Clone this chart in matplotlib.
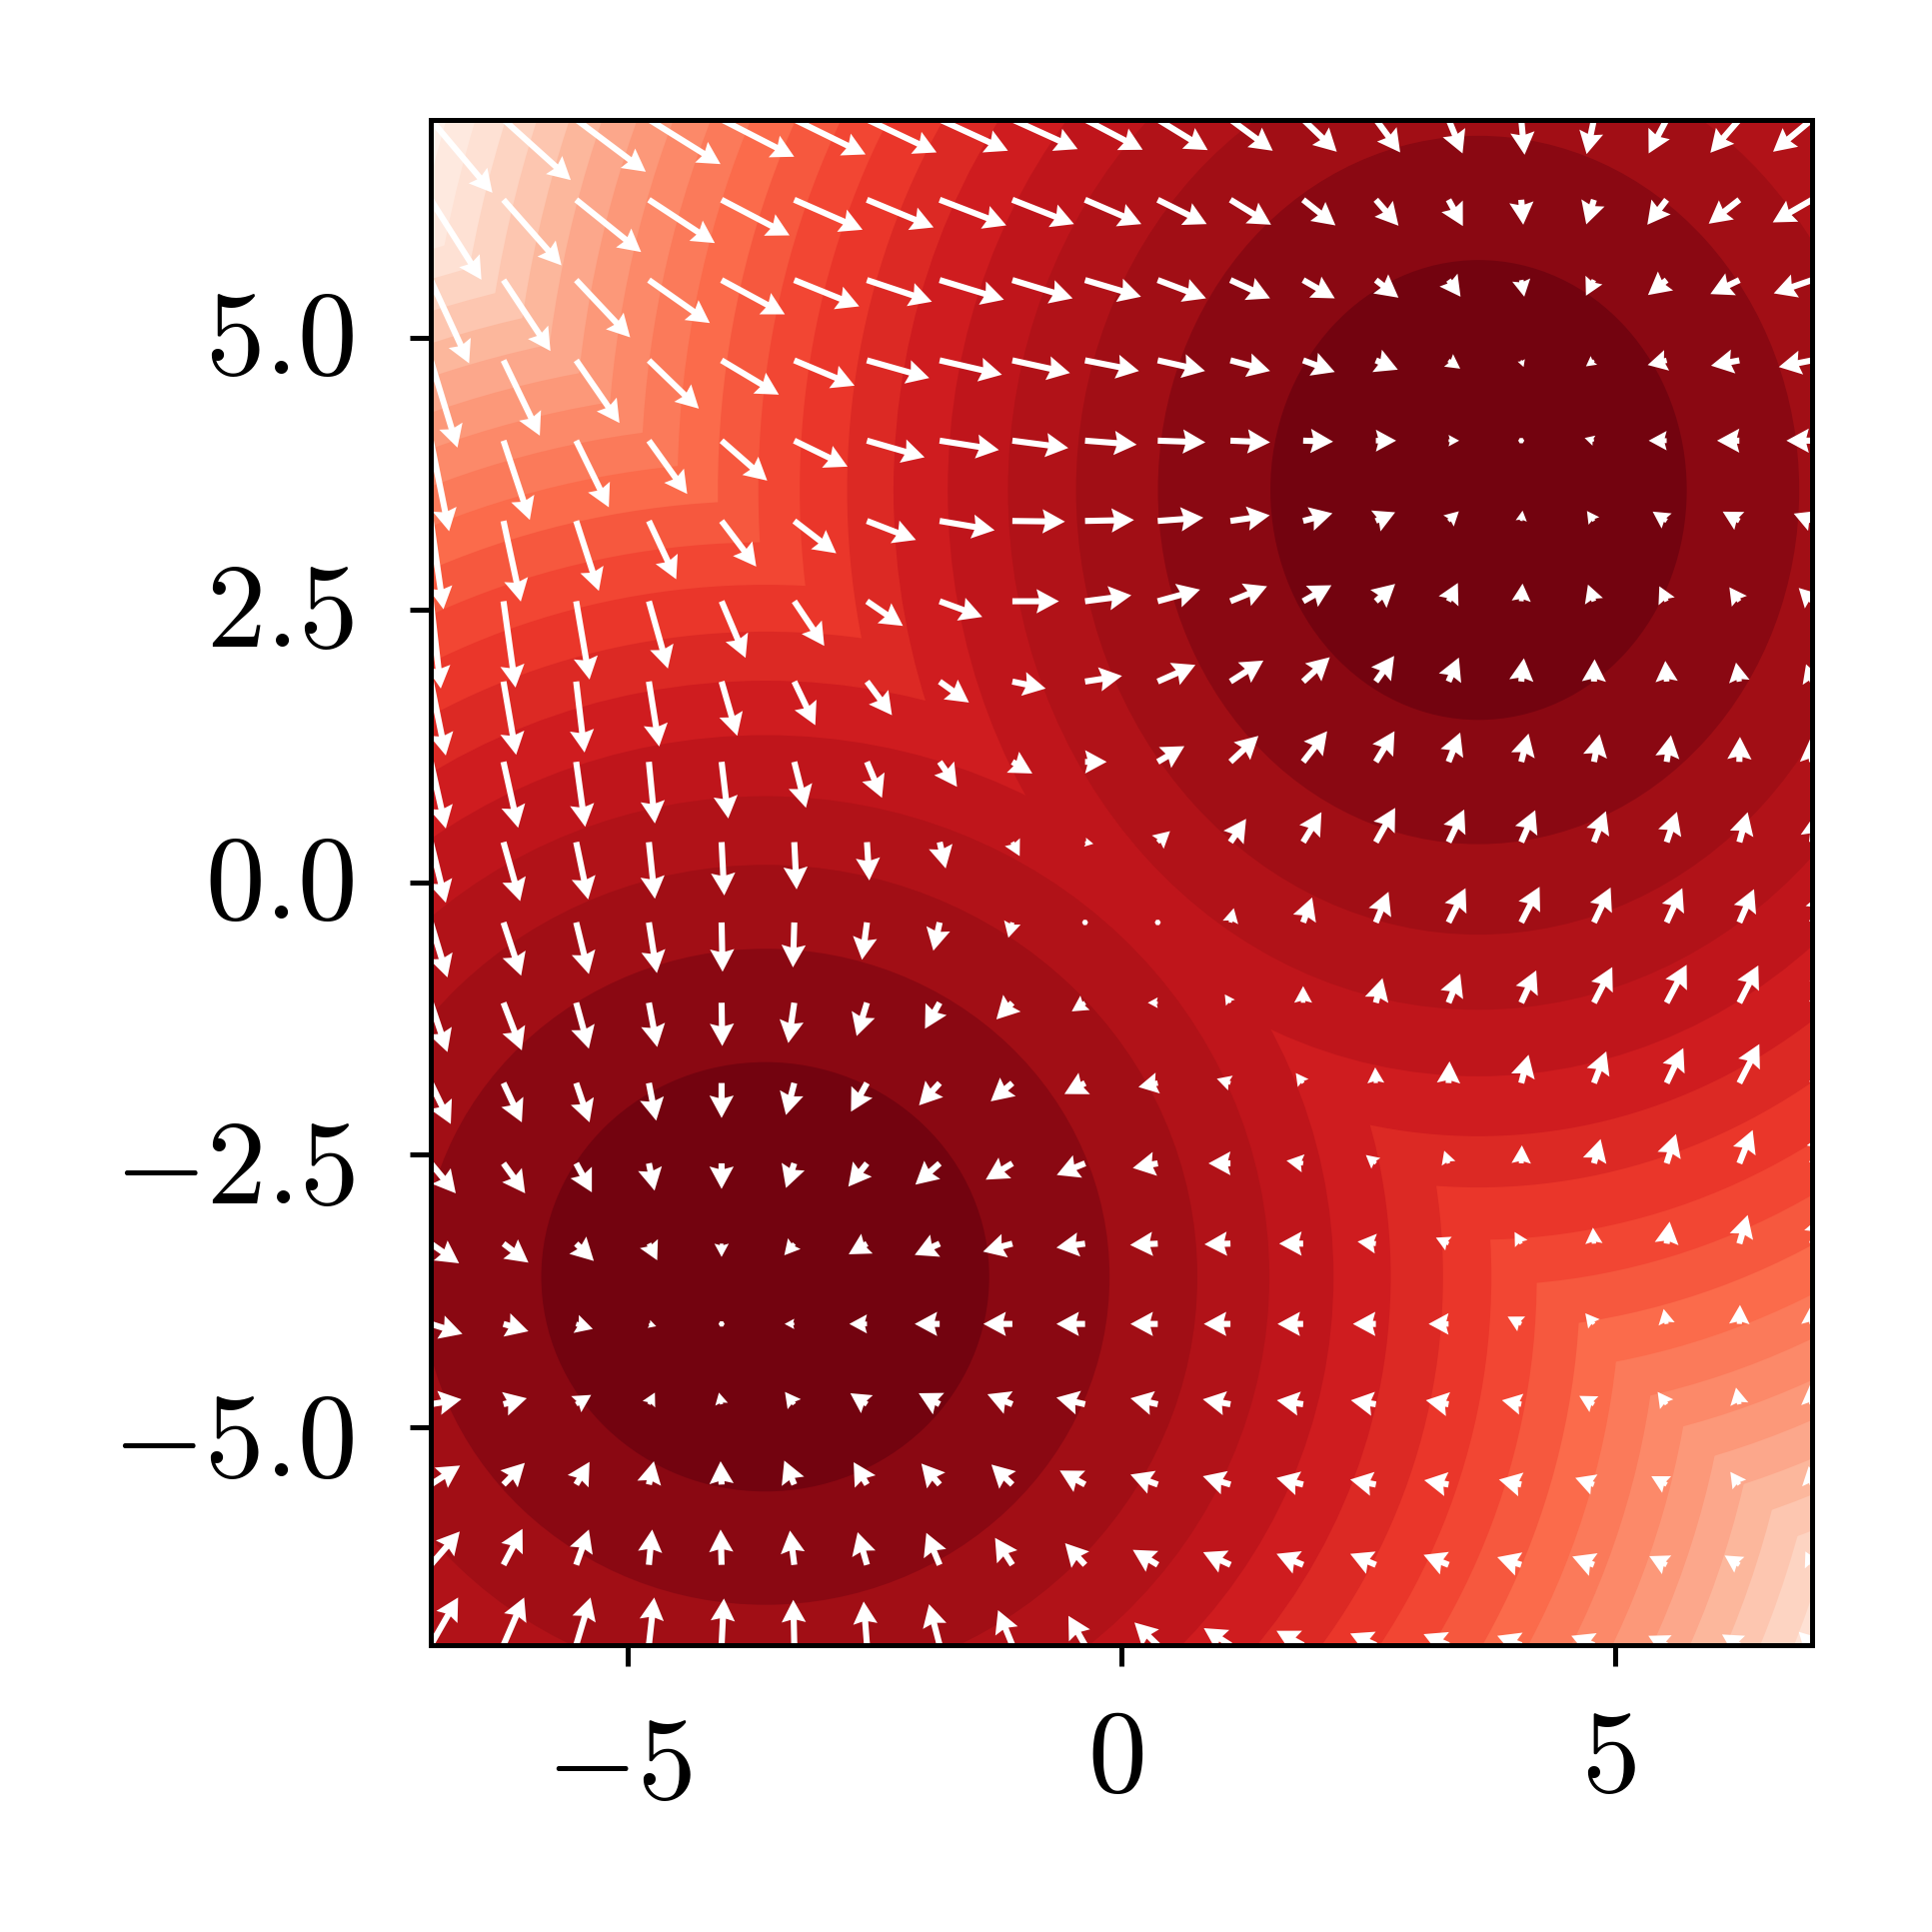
import matplotlib
matplotlib.use('Agg')
import matplotlib.pyplot as plt
import numpy as np
from matplotlib.patches import Ellipse
from matplotlib.transforms import ScaledTranslation

plt.rcParams['mathtext.fontset'] = 'cm'
plt.rcParams['font.family'] = 'serif'

x_ticks = [-5, 0, 5]
y_ticks = [-5, -2.5, 0, 2.5, 5]
x_labels = ['$-5$', '$0$', '$5$']
y_labels = ['$-5.0$', '$-2.5$', '$0.0$', '$2.5$', '$5.0$']

# Band boundaries, innermost first
center_a = (3.62, 3.60)
radius_a = [2.11, 3.25, 4.08, 4.77, 5.38, 5.93, 6.40, 6.88, 7.30, 7.71,
            8.12, 8.49, 8.84, 9.18, 9.51, 9.82, 10.13, 10.43, 10.72, 11.00]
center_b = (-3.61, -3.62)
radius_b_x = [2.27, 3.49, 4.38, 5.11, 5.76, 6.34, 6.87, 7.36, 7.82, 8.26,
              8.67, 9.06, 9.44, 9.81, 10.16, 10.50, 10.82, 11.14, 11.45, 11.75]
radius_b_y = [1.97, 3.01, 3.78, 4.41, 4.97, 5.47, 5.92, 6.35, 6.74, 7.12,
              7.48, 7.82, 8.14, 8.45, 8.76, 9.05, 9.33, 9.61, 9.87, 10.13]

# Arrow components per grid row, top row first, left to right
U = [
    [185, 202, 209, 215, 218, 214, 209, 205, 196, 173, 150, 127, 101, 73, 42, 10, -22, -54, -87, -117],
    [152, 174, 195, 198, 204, 205, 200, 200, 185, 169, 147, 122, 97, 68, 43, 6, -23, -58, -92, -118],
    [115, 141, 162, 183, 190, 195, 195, 193, 181, 168, 145, 119, 95, 68, 36, 9, -24, -56, -87, -115],
    [80, 109, 130, 150, 172, 181, 187, 187, 173, 162, 142, 119, 95, 66, 35, 7, -24, -57, -85, -100],
    [55, 79, 98, 115, 137, 160, 173, 178, 168, 155, 143, 119, 90, 61, 32, 0, -28, -54, -67, -77],
    [38, 52, 68, 82, 104, 126, 147, 165, 158, 147, 137, 118, 88, 58, 31, 4, -21, -42, -50, -55],
    [30, 36, 40, 57, 72, 90, 108, 128, 140, 139, 127, 110, 85, 58, 28, 4, -18, -22, -30, -40],
    [45, 38, 25, 31, 47, 63, 75, 88, 100, 111, 113, 99, 80, 55, 31, 8, 2, -4, -10, -18],
    [45, 44, 27, 18, 20, 35, 45, 52, 60, 65, 80, 84, 72, 56, 35, 22, 17, 13, 2, -5],
    [45, 50, 36, 18, 8, 7, 7, 18, 22, 25, 37, 47, 55, 58, 47, 42, 36, 31, 25, 10],
    [50, 53, 38, 24, 3, -4, -15, -19, -12, 0, 0, 10, 27, 38, 51, 55, 50, 47, 44, 40],
    [50, 55, 38, 25, 2, -18, -31, -44, -48, -40, -30, -17, 0, 20, 35, 45, 55, 60, 57, 55],
    [60, 55, 40, 22, 0, -25, -48, -62, -65, -62, -58, -41, -22, -2, 3, 22, 37, 50, 60, 65],
    [75, 65, 47, 17, 0, -25, -56, -73, -80, -85, -75, -66, -50, -30, -13, 2, 20, 28, 40, 45],
    [85, 75, 53, 25, 0, -30, -55, -75, -88, -86, -83, -78, -72, -55, -38, -20, -3, 9, 25, 35],
    [95, 75, 50, 22, 0, -29, -53, -75, -87, -86, -82, -80, -77, -69, -60, -41, -26, -9, 2, 0],
    [92, 70, 45, 18, -8, -28, -50, -63, -75, -86, -82, -83, -79, -75, -68, -58, -44, -27, -10, -5],
    [88, 64, 40, 15, -3, -30, -40, -55, -63, -76, -82, -83, -80, -77, -73, -67, -56, -46, -27, -10],
    [87, 57, 38, 10, -3, -13, -28, -40, -52, -60, -75, -82, -80, -77, -75, -72, -65, -52, -44, -20],
    [82, 62, 43, 16, 7, -3, -10, -32, -43, -50, -70, -80, -80, -77, -75, -72, -68, -55, -52, -40],
]
V = [
    [-220, -182, -157, -134, -112, -105, -99, -94, -89, -91, -92, -94, -97, -99, -102, -106, -104, -102, -100, -97],
    [-240, -197, -157, -130, -107, -90, -83, -77, -73, -73, -73, -75, -77, -78, -79, -75, -74, -75, -72, -68],
    [-250, -213, -172, -129, -103, -79, -65, -59, -55, -50, -55, -55, -55, -53, -50, -50, -47, -45, -42, -40],
    [-262, -226, -188, -145, -103, -76, -53, -43, -38, -32, -32, -32, -35, -28, -25, -20, -18, -14, -16, -20],
    [-272, -238, -200, -160, -120, -78, -50, -28, -22, -12, -5, -5, -3, 0, 0, 0, 8, 0, 0, 0],
    [-265, -242, -210, -175, -137, -97, -57, -28, -2, 3, 10, 17, 23, 26, 29, 31, 30, 28, 28, 22],
    [-262, -259, -235, -202, -170, -134, -74, -47, 0, 18, 35, 45, 48, 52, 55, 53, 50, 45, 42, 40],
    [-222, -220, -213, -195, -163, -131, -101, -63, -21, 17, 50, 63, 73, 77, 72, 70, 67, 62, 57, 52],
    [-200, -198, -195, -185, -170, -138, -108, -75, -35, 0, 47, 78, 92, 92, 88, 85, 83, 80, 75, 70],
    [-182, -177, -172, -170, -160, -142, -115, -79, -42, -5, 33, 70, 90, 103, 98, 96, 93, 91, 90, 85],
    [-165, -160, -155, -152, -148, -135, -112, -85, -46, 0, 0, 43, 75, 92, 103, 107, 105, 103, 100, 98],
    [-148, -143, -138, -133, -130, -121, -100, -78, -50, -26, 0, 25, 50, 74, 87, 97, 107, 114, 112, 110],
    [-123, -118, -118, -113, -105, -96, -86, -67, -55, -33, -12, 13, 30, 47, 65, 85, 95, 105, 117, 115],
    [-90, -90, -87, -82, -77, -74, -70, -64, -49, -35, -14, 0, 8, 25, 38, 54, 73, 88, 100, 100],
    [-59, -57, -52, -50, -40, -35, -32, -34, -24, -12, -4, -2, 0, 6, 18, 35, 48, 66, 86, 90],
    [-30, -22, -15, -7, 0, 0, 0, 0, 0, 0, 0, 0, 0, 0, 0, 22, 32, 45, 57, 60],
    [15, 18, 28, 35, 35, 37, 33, 33, 30, 20, 18, 15, 12, 12, 12, 12, 25, 37, 50, 60],
    [57, 65, 68, 70, 70, 72, 67, 63, 60, 42, 30, 25, 20, 15, 13, 15, 20, 25, 38, 55],
    [100, 108, 106, 106, 106, 103, 98, 96, 81, 65, 45, 38, 33, 33, 30, 23, 25, 26, 28, 40],
    [143, 143, 143, 143, 140, 136, 131, 123, 105, 88, 68, 51, 43, 35, 33, 28, 28, 28, 32, 40],
]

fig = plt.figure(figsize=(1933 / 300, 1933 / 300), dpi=300)
ax = fig.add_axes([431 / 1933, 1 - 1646 / 1933, 1382 / 1933, 1526.5 / 1933])
ax.set_xlim(-7, 7)
ax.set_ylim(-7, 7)

# Paint the bands from the outside in, the two families overlap to give the kinks
n_bands = len(radius_a) + 1
colors = [plt.cm.Reds_r((k + 0.5) / n_bands) for k in range(n_bands)]
ax.set_facecolor(colors[-1])
for k in range(n_bands - 2, -1, -1):
    ax.add_patch(Ellipse(center_a, 2 * radius_a[k], 2 * radius_a[k], facecolor=colors[k], edgecolor='none', zorder=1))
    ax.add_patch(Ellipse(center_b, 2 * radius_b_x[k], 2 * radius_b_y[k], facecolor=colors[k], edgecolor='none', zorder=1))

xs = np.linspace(-7, 7, 20)
ys = np.linspace(7, -7, 20)
ax.quiver(xs, ys, np.array(U), np.array(V), color='white', angles='uv', pivot='tail',
          scale_units='width', scale=4146, width=0.0044, headwidth=4.0, headlength=3.7,
          headaxislength=3.3, zorder=3)

ax.set_xticks(x_ticks, x_labels)
ax.set_yticks(y_ticks, y_labels)
ax.tick_params(axis='x', labelsize=28.2, length=5, width=1.2, pad=8.6)
ax.tick_params(axis='y', labelsize=28.6, length=5, width=1.2, pad=13.4)
for spine in ax.spines.values():
    spine.set_linewidth(1.2)
    spine.set_zorder(5)

# Nudge the labels, the negative ones sit lower on their ticks
for label, tick in zip(ax.get_xticklabels(), x_ticks):
    dx = -2.2 if tick < 0 else -1.5
    dy = -1.5 if tick < 0 else 0
    label.set_transform(label.get_transform() + ScaledTranslation(dx / 72, dy / 72, fig.dpi_scale_trans))
for label, tick in zip(ax.get_yticklabels(), y_ticks):
    dy = -0.8 if tick < 0 else 2.1
    label.set_transform(label.get_transform() + ScaledTranslation(0, dy / 72, fig.dpi_scale_trans))

fig.savefig('out.png', dpi=300)
